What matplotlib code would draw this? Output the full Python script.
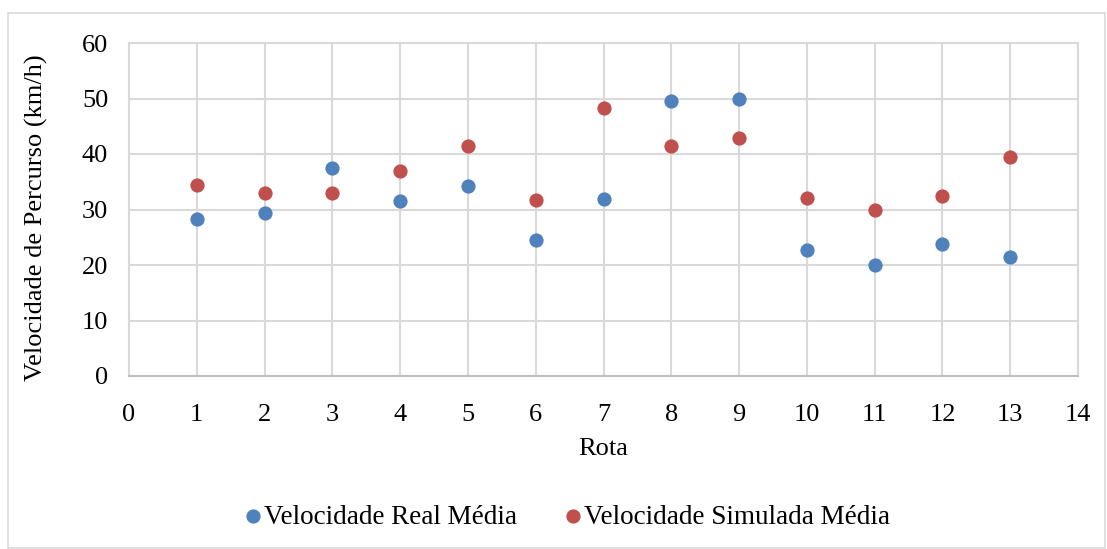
import matplotlib.pyplot as plt
from matplotlib.patches import Rectangle

plt.rcParams['font.family'] = ['Liberation Serif', 'DejaVu Serif']

rota = [1, 2, 3, 4, 5, 6, 7, 8, 9, 10, 11, 12, 13]
vel_real = [28.3, 29.4, 37.5, 31.5, 34.2, 24.5, 31.9, 49.5, 49.9, 22.7, 20.0, 23.8, 21.4]
vel_simulada = [34.4, 33.0, 33.0, 36.9, 41.4, 31.7, 48.3, 41.4, 42.9, 32.1, 29.9, 32.4, 39.5]

blue = '#4F81BD'
red = '#C0504D'
grid_col = '#D9D9D9'

fig = plt.figure(figsize=(11.07, 5.49), dpi=100)
ax = fig.add_axes([129/1107, 1-376/549, (1078-129)/1107, 333/549])

ax.scatter(rota, vel_real, s=105, color=blue, label='Velocidade Real Média', zorder=3, linewidths=0)
ax.scatter(rota, vel_simulada, s=105, color=red, label='Velocidade Simulada Média', zorder=3, linewidths=0)

ax.set_xlim(0, 14)
ax.set_ylim(0, 60)
ax.set_xticks(range(0, 15))
ax.set_yticks(range(0, 61, 10))
ax.grid(True, color=grid_col, linewidth=1.5)
ax.set_axisbelow(True)
for sp in ax.spines.values():
    sp.set_color(grid_col)
    sp.set_linewidth(1.5)
ax.spines['bottom'].set_color('#BFBFBF')
ax.tick_params(axis='x', length=0, labelsize=19, pad=20)
ax.tick_params(axis='y', length=0, labelsize=19, pad=15)

ax.set_xlabel('Rota', fontsize=19, labelpad=9)
ax.set_ylabel('Velocidade de Percurso (km/h)', fontsize=19)
ax.yaxis.set_label_coords(-81/949, 0.475)

leg = fig.legend(loc='center', bbox_to_anchor=(558/1107, 1-517/549), ncol=2, frameon=False,
                 fontsize=19.5, handletextpad=-0.6, columnspacing=1.1, markerscale=1.0)

# outer chart border
fig.patches.append(Rectangle((8/1107, 1/549), 1097/1107, 1-13/549-1/549, transform=fig.transFigure,
                             fill=False, edgecolor=grid_col, linewidth=1.2))

fig.savefig('out.png', dpi=100)
